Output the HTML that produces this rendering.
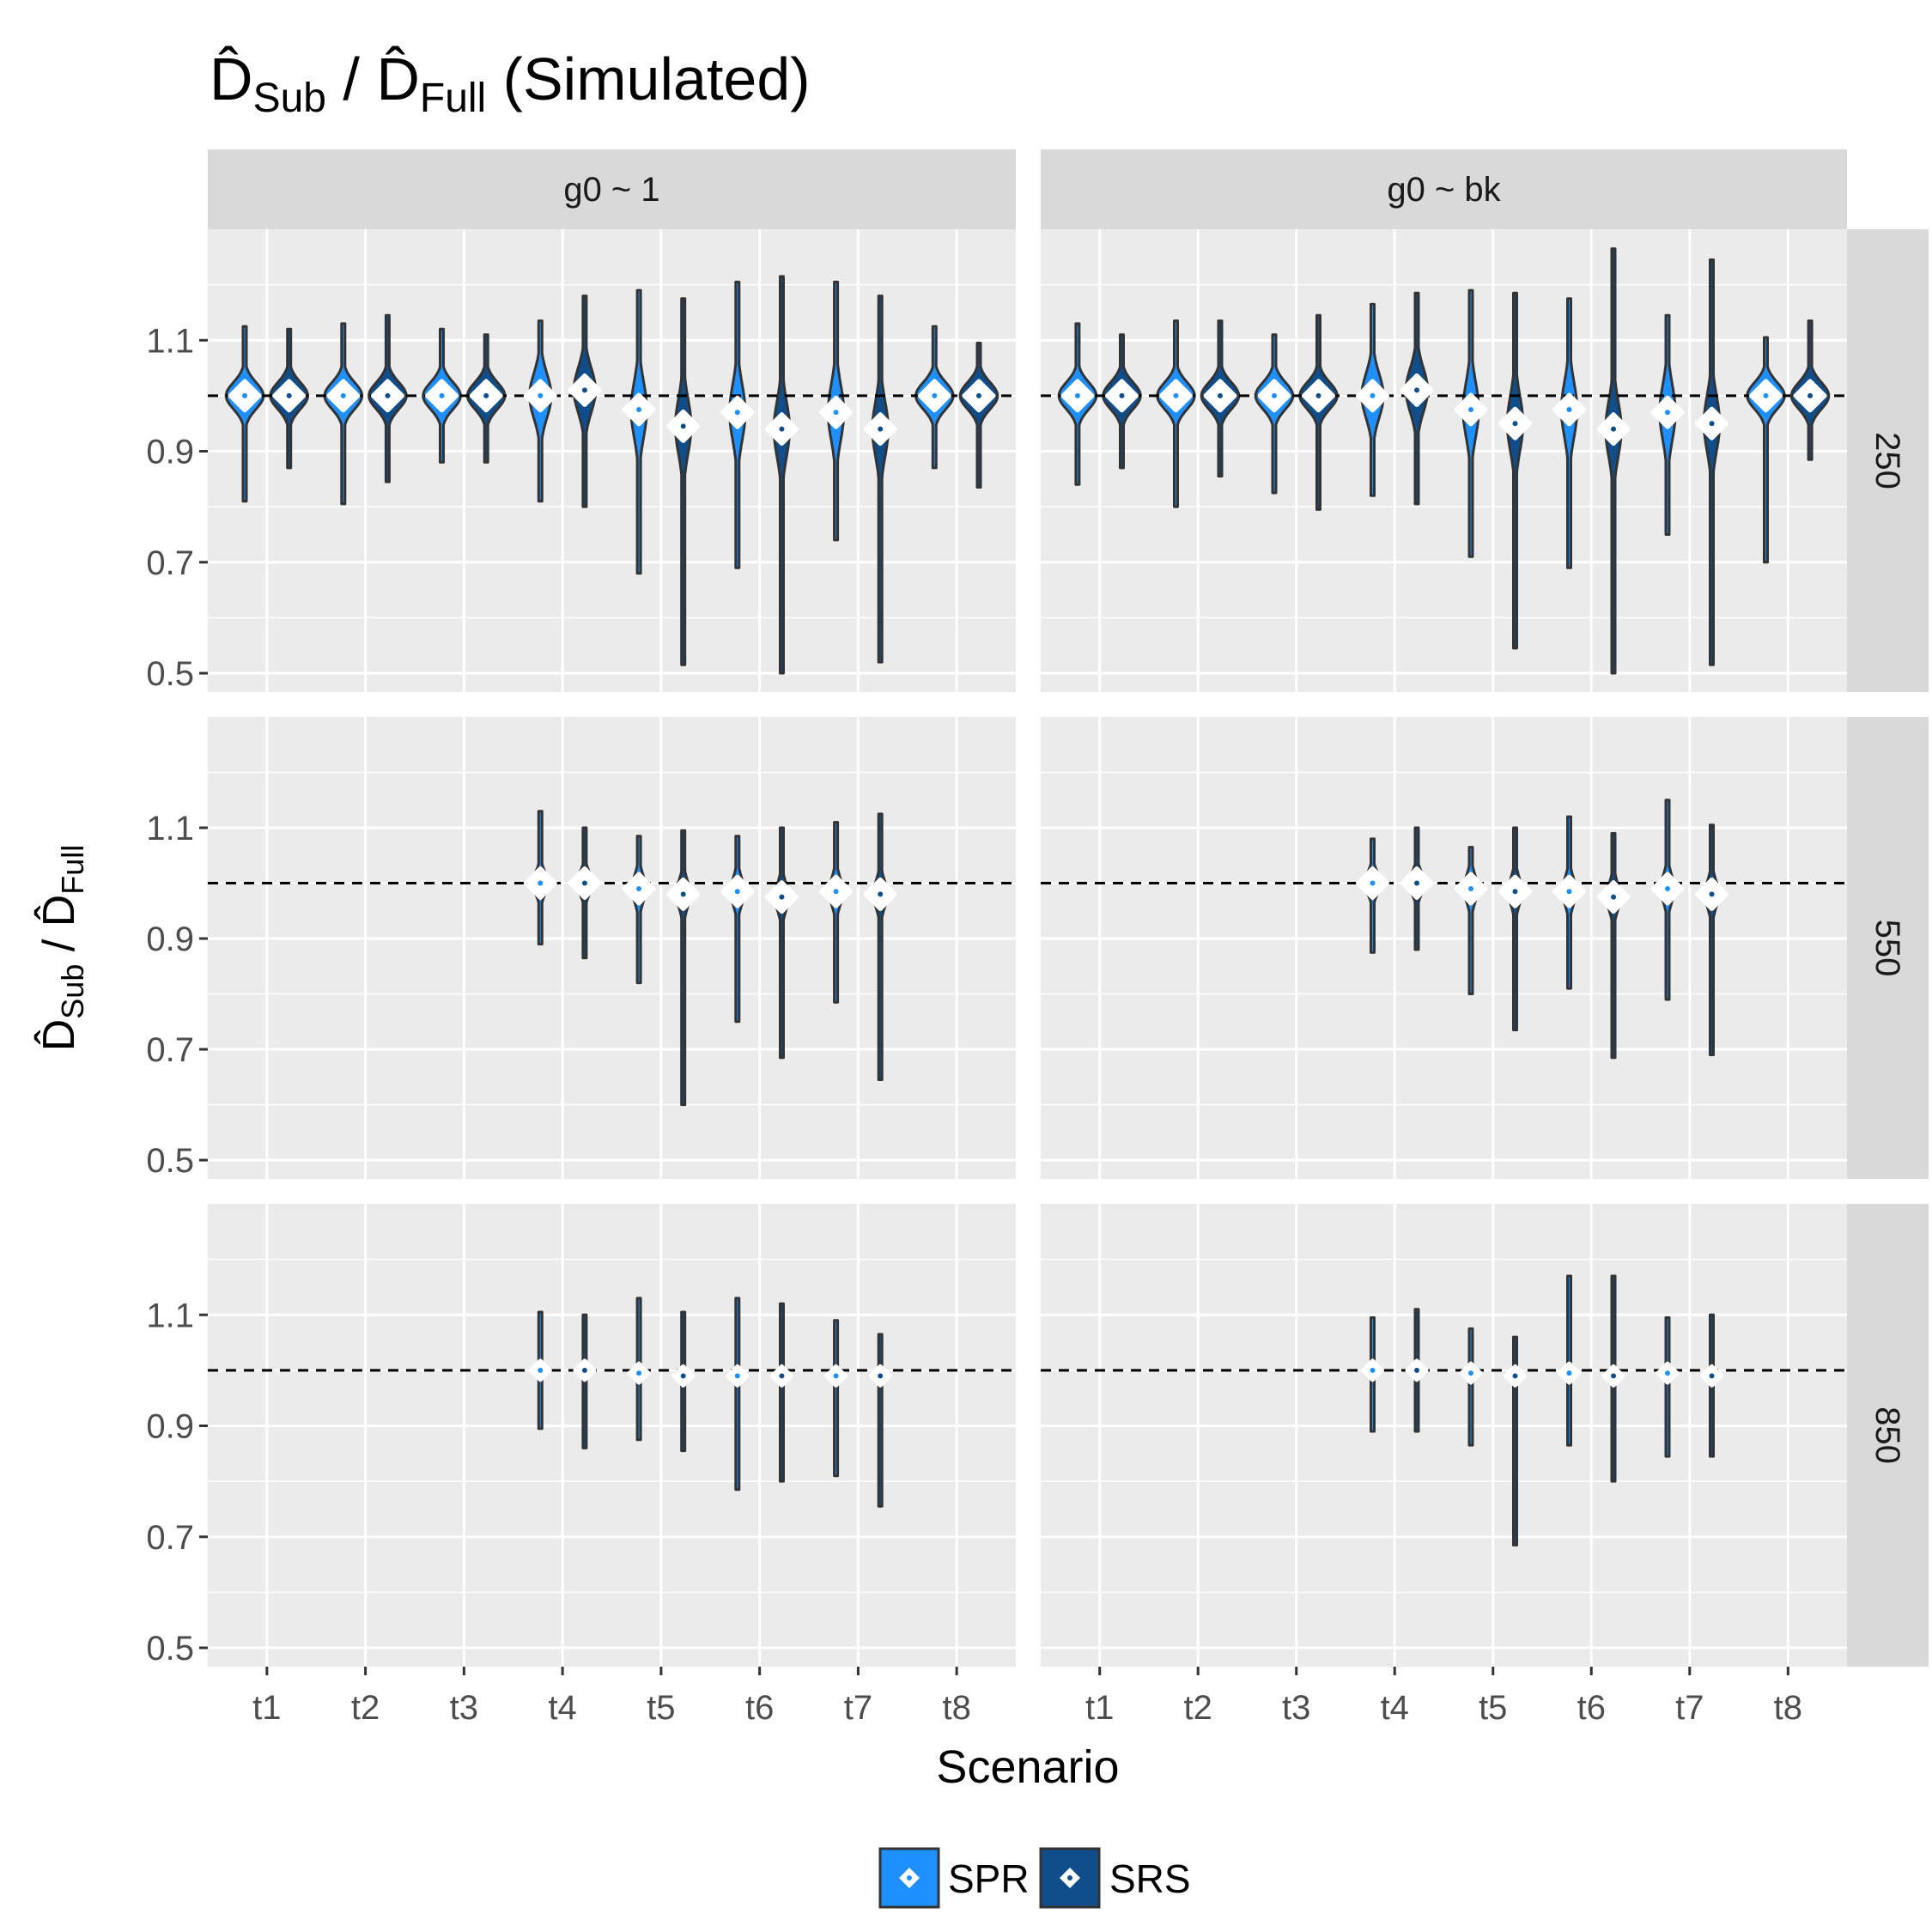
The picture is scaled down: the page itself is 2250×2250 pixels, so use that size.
<!DOCTYPE html>
<html><head><meta charset="utf-8"><style>
body{margin:0;background:#fff}
svg{display:block;font-family:"Liberation Sans",Arial,sans-serif}
</style></head><body>
<svg id="chart" width="2250" height="2250" viewBox="0 0 2250 2250" xmlns="http://www.w3.org/2000/svg">
<rect width="2250" height="2250" fill="#fff"/>
<text x="244" y="116" font-size="70" fill="#000">D̂<tspan font-size="48" dy="14">Sub</tspan><tspan dy="-14"> / D̂</tspan><tspan font-size="48" dy="14">Full</tspan><tspan dy="-14"> (Simulated)</tspan></text>
<g id="plots"></g>
<text transform="translate(86,1104) rotate(-90)" text-anchor="middle" font-size="52" fill="#000">D̂<tspan font-size="36" dy="11">Sub</tspan><tspan dy="-11"> / D̂</tspan><tspan font-size="36" dy="11">Full</tspan></text>
<text x="1197" y="2076" text-anchor="middle" font-size="54" fill="#000">Scenario</text>
<g>
<g>
<rect x="1025" y="2153" width="68" height="68" fill="#1E90FF" stroke="#333" stroke-width="3"/>
<path d="M1059 2175 L1071 2187 L1059 2199 L1047 2187 Z" fill="#fff"/><circle cx="1059" cy="2187" r="3" fill="#1E90FF"/>
<text x="1104" y="2204" font-size="46">SPR</text></g>
<g>
<rect x="1212" y="2153" width="68" height="68" fill="#104E8B" stroke="#333" stroke-width="3"/>
<path d="M1246 2175 L1258 2187 L1246 2199 L1234 2187 Z" fill="#fff"/><circle cx="1246" cy="2187" r="3" fill="#104E8B"/>
<text x="1292" y="2204" font-size="46">SRS</text></g>
</g>
</svg>
<script>
// categories
const scenarios = ["t1","t2","t3","t4","t5","t6","t7","t8"];
const facetCols = ["g0 ~ 1","g0 ~ bk"];
const facetRows = ["250","550","850"];
const yTicks = [0.5,0.7,0.9,1.1];
const yMinor = [0.6,0.8,1.0,1.2];
// per panel (row-major: r0c0,r0c1,r1c0,...), per scenario; null = absent
const sprMean = [
 [1.0,1.0,1.0,1.0,0.975,0.97,0.97,1.0],[1.0,1.0,1.0,1.0,0.975,0.975,0.97,1.0],
 [null,null,null,1.0,0.99,0.985,0.985,null],[null,null,null,1.0,0.99,0.985,0.99,null],
 [null,null,null,1.0,0.995,0.99,0.99,null],[null,null,null,1.0,0.995,0.995,0.995,null]];
const sprMax = [
 [1.125,1.13,1.12,1.135,1.19,1.205,1.205,1.125],[1.13,1.135,1.11,1.165,1.19,1.175,1.145,1.105],
 [0,0,0,1.13,1.085,1.085,1.11,0],[0,0,0,1.08,1.065,1.12,1.15,0],
 [0,0,0,1.105,1.13,1.13,1.09,0],[0,0,0,1.095,1.075,1.17,1.095,0]];
const sprMin = [
 [0.81,0.805,0.88,0.81,0.68,0.69,0.74,0.87],[0.84,0.80,0.825,0.82,0.71,0.69,0.75,0.70],
 [0,0,0,0.89,0.82,0.75,0.785,0],[0,0,0,0.875,0.80,0.81,0.79,0],
 [0,0,0,0.895,0.875,0.785,0.81,0],[0,0,0,0.89,0.865,0.865,0.845,0]];
const srsMean = [
 [1.0,1.0,1.0,1.01,0.945,0.94,0.94,1.0],[1.0,1.0,1.0,1.01,0.95,0.94,0.95,1.0],
 [null,null,null,1.0,0.98,0.975,0.98,null],[null,null,null,1.0,0.985,0.975,0.98,null],
 [null,null,null,1.0,0.99,0.99,0.99,null],[null,null,null,1.0,0.99,0.99,0.99,null]];
const srsMax = [
 [1.12,1.145,1.11,1.18,1.175,1.215,1.18,1.095],[1.11,1.135,1.145,1.185,1.185,1.265,1.245,1.135],
 [0,0,0,1.1,1.095,1.1,1.125,0],[0,0,0,1.1,1.1,1.09,1.105,0],
 [0,0,0,1.1,1.105,1.12,1.065,0],[0,0,0,1.11,1.06,1.17,1.1,0]];
const srsMin = [
 [0.87,0.845,0.88,0.80,0.515,0.50,0.52,0.835],[0.87,0.855,0.795,0.805,0.545,0.50,0.515,0.885],
 [0,0,0,0.865,0.60,0.685,0.645,0],[0,0,0,0.88,0.735,0.685,0.69,0],
 [0,0,0,0.86,0.855,0.80,0.755,0],[0,0,0,0.89,0.685,0.80,0.845,0]];
// spread (sd) and peak half-width (x units) of each violin, per row
const rowSd = [[0.024,0.024,0.024,0.04,0.05,0.05,0.05,0.024],[0,0,0,0.02,0.025,0.025,0.025,0],[0,0,0,0.008,0.008,0.008,0.008,0]];
const rowPeak = [[0.19,0.19,0.19,0.11,0.08,0.08,0.08,0.19],[0,0,0,0.08,0.07,0.07,0.07,0],[0,0,0,0.015,0.012,0.012,0.012,0]];

const NS="http://www.w3.org/2000/svg";
const g=document.getElementById('plots');
const colX=[[242,1183],[1212,2151]], rowY=[[267,806],[835,1373],[1402,1941]];
const yLo=0.466,yHi=1.3,xLo=0.4,xHi=8.6;
function mk(tag,attrs,parent){const e=document.createElementNS(NS,tag);for(const k in attrs)e.setAttribute(k,attrs[k]);(parent||g).appendChild(e);return e;}
for(let r=0;r<3;r++)for(let c=0;c<2;c++){
  const [x0,x1]=colX[c],[y0,y1]=rowY[r];
  const sx=v=>x0+(v-xLo)/(xHi-xLo)*(x1-x0);
  const sy=v=>y1-(v-yLo)/(yHi-yLo)*(y1-y0);
  const pg=mk('g',{});
  
  
  mk('rect',{x:x0,y:y0,width:x1-x0,height:y1-y0,fill:'#EBEBEB'},pg);
  yMinor.forEach(v=>{const l=mk('line',{x1:x0,x2:x1,y1:sy(v),y2:sy(v),stroke:'#fff','stroke-width':1.5},pg);});
  yTicks.forEach(v=>{const l=mk('line',{x1:x0,x2:x1,y1:sy(v),y2:sy(v),stroke:'#fff','stroke-width':3},pg);});
  scenarios.forEach((s,i)=>{const l=mk('line',{x1:sx(i+1),x2:sx(i+1),y1:y0,y2:y1,stroke:'#fff','stroke-width':3},pg);});
  const p=r*2+c;
  const series=[[sprMean,sprMin,sprMax,'#1E90FF',-0.225,'spr'],[srsMean,srsMin,srsMax,'#104E8B',0.225,'srs']];
  const marks=[];
  scenarios.forEach((s,i)=>{
    series.forEach(([M,Mn,Mx,col,off,nm])=>{
      const m=M[p][i]; if(m===null)return;
      const lo=Mn[p][i],hi=Mx[p][i],sd=rowSd[r][i],pk=rowPeak[r][i];
      const cx=sx(i+1+off), unit=(x1-x0)/(xHi-xLo);
      const N=100,left=[],right=[];
      for(let k=0;k<=N;k++){const v=hi-(hi-lo)*k/N;const z=(v-m)/sd;
        const w=Math.max(2,pk*unit*Math.exp(-0.5*z*z));right.push([cx+w,sy(v)]);left.push([cx-w,sy(v)]);}
      const pts=right.concat(left.reverse()).map(q=>q[0].toFixed(1)+','+q[1].toFixed(1)).join(' ');
      const v=mk('polygon',{points:pts,fill:col,stroke:'#333','stroke-width':3,'stroke-linejoin':'round'},pg);
      
      
      marks.push([cx,sy(m),col,nm,s]);
    });
  });
  const dl=mk('line',{x1:x0,x2:x1,y1:sy(1.0),y2:sy(1.0),stroke:'#000','stroke-width':3,'stroke-dasharray':'12 9'},pg);
  
  
  const ds=r===2?11:17;
  marks.forEach(([cx,cy,col,nm,s])=>{
    const d=mk('path',{d:`M${cx} ${cy-ds} L${cx+ds} ${cy} L${cx} ${cy+ds} L${cx-ds} ${cy} Z`,fill:'#fff',stroke:'#fff','stroke-width':5,'stroke-linejoin':'round'},pg);
    
    
    mk('circle',{cx:cx,cy:cy,r:3,fill:col},pg);
  });
  if(c===0){yTicks.forEach(v=>{
    mk('line',{x1:x0-10,x2:x0,y1:sy(v),y2:sy(v),stroke:'#333','stroke-width':3});
    const t=mk('text',{x:x0-16,y:sy(v)+14,'text-anchor':'end','font-size':40,fill:'#4D4D4D'});t.textContent=v.toFixed(1);
    });}
  if(r===2){scenarios.forEach((s,i)=>{
    mk('line',{x1:sx(i+1),x2:sx(i+1),y1:y1,y2:y1+10,stroke:'#333','stroke-width':3});
    const t=mk('text',{x:sx(i+1),y:y1+61,'text-anchor':'middle','font-size':40,fill:'#4D4D4D'});t.textContent=s;
    });}
  if(r===0){mk('rect',{x:x0,y:174,width:x1-x0,height:93,fill:'#D9D9D9'});
    const t=mk('text',{x:(x0+x1)/2,y:234,'text-anchor':'middle','font-size':40,fill:'#1A1A1A'});t.textContent=facetCols[c];
    }
  if(c===1){mk('rect',{x:2151,y:y0,width:95,height:y1-y0,fill:'#D9D9D9'});
    const t=mk('text',{transform:`translate(2185,${(y0+y1)/2}) rotate(90)`,'text-anchor':'middle','font-size':40,fill:'#1A1A1A'});t.textContent=facetRows[r];
    }
}
</script>
</body></html>
